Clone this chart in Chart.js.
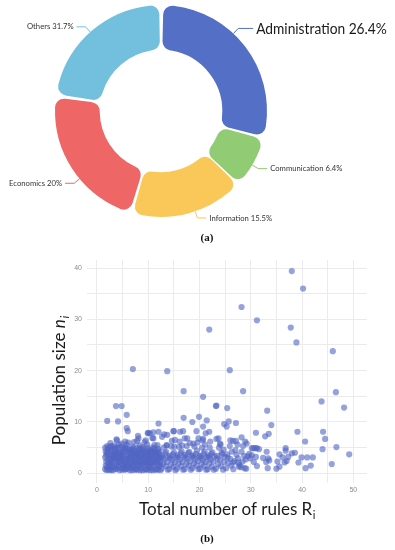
<!DOCTYPE html>
<html>
<head>
<meta charset="utf-8">
<script src="https://cdn.jsdelivr.net/npm/chart.js@4.4.1/dist/chart.umd.min.js"></script>
<style>
  html,body{margin:0;padding:0;background:#fff;}
  body{width:395px;height:550px;position:relative;overflow:hidden;}
  .box{position:absolute;left:0;}
  .cap{position:absolute;left:187px;width:40px;text-align:center;font-family:"Liberation Serif",serif;font-weight:bold;font-size:11px;line-height:12px;color:#111;}
</style>
</head>
<body>
<div class="box" style="top:0;"><canvas id="pie" width="395" height="232"></canvas></div>
<div class="cap" style="top:231px;">(a)</div>
<div class="box" style="top:245px;"><canvas id="sc" width="395" height="305"></canvas></div>
<div class="cap" style="top:532px;">(b)</div>
<script>
// ---------- Doughnut data ----------
const categories = ['Administration', 'Communication', 'Information', 'Economics', 'Others'];
const shareLabels = ['26.4%', '6.4%', '15.5%', '20%', '31.7%'];
const sliceShares = [29.2, 7.8, 17.5, 22.8, 22.7];
const sliceColors = ['#5470c6', '#91cc75', '#fac858', '#ee6666', '#73c0de'];

// ---------- Scatter data: [total rules R_i, population size n_i] ----------
const sparsePoints = [
  [38.0,39.4],[40.2,36.0],[28.2,32.4],[31.2,29.8],[21.9,28.0],[37.8,28.4],[38.9,25.5],[46.0,23.8],
  [7.0,20.3],[13.7,19.9],[25.9,20.1],[16.9,16.0],[28.5,16.0],[20.7,14.9],[46.6,15.8],[43.8,14.0],
  [48.2,12.8],[3.7,13.1],[4.8,13.1],[23.2,13.1],[23.3,13.2],[25.4,12.7],[33.2,12.2],[5.8,11.4],
  [2.0,10.2],[4.1,10.1],[16.9,10.8],[19.9,11.0],[21.4,10.3],[18.6,10.0],[25.7,10.1],[27.1,9.8],
  [24.8,9.6],[12.0,9.7],[20.7,9.1],[34.0,9.4],[5.8,8.8],[6.0,8.2],[15.0,8.2],[16.2,8.1],
  [11.0,8.0],[9.9,7.8],[21.9,8.1],[19.4,8.2],[31.0,7.9],[39.1,8.1],[44.1,8.1],[33.5,7.7],
  [32.8,7.2],[28.2,7.0],[44.5,6.7],[40.6,6.2],[23.7,6.8],[3.8,6.6],[8.0,7.3],[12.7,7.1],
  [13.1,7.6],[46.7,5.1],[44.0,4.7],[30.9,4.9],[36.8,4.9],[36.8,4.4],[33.1,4.2],[28.9,6.2],
  [29.2,5.8],[26.0,6.4],[27.1,6.3],[49.2,3.7],[38.0,3.9],[35.6,3.7],[42.1,3.1],[41.0,3.1],
  [39.9,3.1],[37.3,3.2],[36.2,3.1],[33.4,2.9],[33.6,2.5],[39.3,2.1],[35.2,2.3],[36.6,2.1],
  [45.8,1.8],[41.7,1.5],[40.7,1.0],[35.6,1.3],[35.0,0.9],[33.3,1.0],[33.0,2.2],[30.5,4.9],
  [29.7,3.8],[29.9,2.9],[29.1,0.9],[27.7,1.3],[27.6,2.1],[26.6,2.1],[38.6,4.0],[31.2,4.9],
  [30.2,4.9],[37.0,2.4],
  [14.9,8.2],[16.8,8.2],[25.3,9.1],[15.2,6.5],[17.1,6.8],[19.8,6.8],[20.7,6.7],[23.3,6.7],
  [24.0,5.8],[18.8,5.8],[13.6,5.5],[10.0,7.9],[13.7,7.5],[21.2,7.8],
  [8.1,6.8],[11.0,6.8],[10.3,7.8],[12.0,8.1],[7.2,6.1],[9.5,6.4],[2.6,5.9],[5.5,6.2]
];
const bandPoints = [
  [1.6,0.8],[1.7,1.5],[1.8,2.3],[1.6,3.1],[1.9,3.9],[2.1,4.6],[2.0,5.3],[2.3,0.7],[2.2,1.9],[2.4,2.8],[1.7,4.3],[2.4,3.5],[2.0,1.2],[2.3,5.0],
  [2.6,0.9],[2.8,1.6],[3.0,2.4],[2.7,3.2],[3.2,4.1],[2.9,4.8],[3.3,5.4],[3.1,0.6],[3.4,1.3],[2.6,2.0],[3.0,3.6],[3.3,2.9],[2.8,4.4],[3.4,5.0],
  [3.6,0.8],[3.8,1.7],[4.0,2.6],[3.7,3.4],[4.2,4.2],[3.9,5.1],[4.4,0.6],[4.1,1.4],[4.3,2.1],[3.6,2.9],[4.0,3.9],[4.4,3.1],[3.7,4.6],[4.3,5.6],[3.9,6.4],
  [4.6,1.0],[4.8,1.9],[5.0,2.7],[4.7,3.5],[5.2,4.3],[4.9,5.2],[5.4,0.7],[5.1,1.5],[5.3,2.3],[4.6,3.0],[5.0,3.8],[5.4,4.9],[4.8,5.8],[5.2,1.1],
  [5.6,0.8],[5.8,1.6],[6.0,2.5],[5.7,3.3],[6.2,4.0],[5.9,4.8],[6.4,0.6],[6.1,1.3],[6.3,2.0],[5.6,2.8],[6.0,3.7],[6.4,3.0],[5.8,5.6],[6.3,4.5],[6.1,6.0],
  [6.6,1.0],[6.8,1.9],[7.0,2.8],[6.7,3.6],[7.2,4.4],[6.9,5.2],[7.4,0.7],[7.1,1.5],[7.3,2.3],[6.6,3.1],[7.0,4.0],[7.4,3.4],[6.8,4.7],[7.2,1.2],
  [7.6,0.8],[7.8,1.7],[8.0,2.6],[7.7,3.4],[8.2,4.1],[7.9,5.0],[8.4,0.6],[8.1,1.4],[8.3,2.1],[7.6,2.9],[8.0,3.8],[8.4,3.2],[7.8,6.3],[8.2,4.7],[8.3,5.5],
  [8.6,1.0],[8.8,1.8],[9.0,2.7],[8.7,3.5],[9.2,4.3],[8.9,5.1],[9.4,0.7],[9.1,1.5],[9.3,2.2],[8.6,3.0],[9.0,3.9],[9.4,3.3],[8.8,4.6],[9.3,6.1],
  [9.6,0.8],[9.8,1.6],[10.0,2.5],[9.7,3.3],[10.2,4.0],[9.9,4.9],[10.4,0.6],[10.1,1.3],[10.3,2.0],[9.6,2.8],[10.0,3.6],[10.4,3.0],[9.8,5.6],[10.3,4.5],
  [10.6,1.0],[10.8,1.9],[11.0,2.8],[10.7,3.6],[11.2,4.4],[10.9,5.0],[11.4,0.7],[11.1,1.5],[11.3,2.3],[10.6,3.1],[11.0,4.0],[11.4,3.4],[10.8,6.9],[11.2,5.5],
  [11.6,0.8],[11.8,1.7],[12.0,2.6],[11.7,3.3],[12.2,4.1],[11.9,4.8],[12.4,0.6],[12.1,1.4],[12.3,2.1],[11.6,2.9],[12.0,3.7],[12.4,3.1],[11.8,5.5],
  [12.6,0.9],[12.9,1.8],[13.2,2.7],[12.7,3.5],[13.5,4.2],[13.0,5.0],[13.8,0.7],[13.4,1.4],[13.7,2.2],[12.8,3.0],[13.3,3.9],[13.9,3.2],[13.6,5.4],
  [14.1,0.8],[14.4,1.7],[14.7,2.6],[14.2,3.4],[15.0,4.1],[14.5,5.2],[15.3,0.6],[14.9,1.3],[15.2,2.1],[14.3,2.9],[14.8,3.7],[15.4,3.1],[14.6,6.3],[15.1,5.2],
  [15.6,0.9],[15.9,1.9],[16.2,2.7],[15.7,3.5],[16.5,4.3],[16.0,5.1],[16.8,0.7],[16.4,1.4],[16.7,2.2],[15.8,3.1],[16.3,3.9],[16.9,3.3],[16.1,6.2],[16.6,5.4],
  [17.1,0.8],[17.4,1.8],[17.7,2.8],[17.2,3.6],[18.0,4.2],[17.5,5.3],[18.3,0.7],[17.9,1.5],[18.2,2.3],[17.3,3.0],[17.8,4.0],[18.4,3.4],[17.6,6.8],[18.1,5.9],
  [18.6,1.0],[18.9,1.9],[19.2,2.7],[18.7,3.5],[19.5,4.4],[19.0,5.2],[19.8,0.8],[19.4,1.5],[19.7,2.4],[18.8,3.1],[19.3,3.8],[19.9,3.3],[19.6,6.0],
  [20.1,0.9],[20.4,1.8],[20.7,2.6],[20.2,3.4],[21.0,4.3],[20.5,5.0],[21.3,0.7],[20.9,1.4],[21.2,2.2],[20.3,3.0],[20.8,3.8],[21.4,3.2],[20.6,6.4],[21.1,5.6],
  [21.6,0.8],[21.9,1.9],[22.2,2.7],[21.7,3.5],[22.5,4.1],[22.0,5.0],[22.8,0.7],[22.4,1.3],[22.7,2.3],[21.8,3.1],[22.3,3.8],[22.9,3.3],[22.1,6.2],
  [23.2,0.9],[23.6,1.8],[24.0,2.6],[23.4,3.4],[24.3,4.0],[23.8,5.0],[24.6,0.7],[24.2,1.4],[24.8,2.2],[23.5,2.9],[24.4,3.7],[24.9,3.2],[24.1,5.6],[24.7,4.6],
  [25.2,1.0],[25.6,2.0],[26.0,2.8],[25.4,3.7],[26.3,4.2],[25.9,5.3],[26.6,0.8],[26.2,1.5],[26.8,2.4],[25.5,3.1],[27.2,3.6],[27.5,2.9],[27.0,4.5],[27.8,1.6],[27.4,5.6],[26.5,6.3],
  [28.1,1.2],[28.4,2.3],[28.7,3.4],[28.2,4.2],[29.0,2.7],[28.8,1.0],[29.4,3.3],[28.5,5.3],
  [30.2,3.5],[30.6,2.2],[31.2,1.4],[31.6,4.7],[32.4,3.0],[31.0,3.2]
];
const denseFillPoints = [
  [1.9,0.6],[2.1,2.6],[1.8,3.5],[2.2,4.1],[1.6,5.0],[2.5,1.4],
  [2.7,0.6],[3.1,1.9],[2.9,2.8],[3.4,3.8],[2.7,5.3],[3.2,3.2],
  [3.8,0.9],[4.1,2.2],[3.9,3.0],[4.3,3.6],[3.6,4.0],[4.2,4.9],
  [4.9,0.7],[4.7,2.4],[5.1,3.2],[4.8,4.1],[5.3,1.8],[5.0,4.6],
  [5.9,0.9],[5.7,2.1],[6.2,2.9],[6.0,4.3],[5.6,5.0],[6.3,1.6],
  [6.9,0.6],[7.2,2.0],[6.8,2.5],[7.3,3.8],[6.7,4.2],[7.1,4.9],
  [7.9,0.7],[7.7,2.2],[8.2,3.0],[8.0,4.4],[7.6,3.9],[8.3,1.7],
  [8.9,0.6],[9.2,2.0],[8.7,2.5],[9.3,3.7],[8.6,4.1],[9.1,4.9],
  [9.9,0.7],[9.7,2.2],[10.2,2.9],[10.0,4.4],[9.6,4.0],[10.3,1.7],
  [10.9,0.6],[11.2,2.0],[10.7,2.5],[11.3,3.8],[10.6,4.3],[11.1,4.8],
  [11.9,0.7],[11.7,2.3],[12.2,3.0],[12.0,4.4],[11.6,4.1],[12.3,1.7]
];

// ---------- Doughnut with outside labels ----------
const pieLabels = {
  id: 'pieLabels',
  afterDatasetsDraw(chart, args, opts) {
    const ctx = chart.ctx;
    const meta = chart.getDatasetMeta(0);
    const lbls = chart.data.labels;
    meta.data.forEach((arc, i) => {
      const p = arc.getProps(['x', 'y', 'startAngle', 'endAngle', 'outerRadius'], true);
      const mid = (p.startAngle + p.endAngle) / 2 + (opts.angleShift[i] || 0) * Math.PI / 180;
      const c = Math.cos(mid), s = Math.sin(mid);
      const l1 = opts.len1[i], l2 = opts.len2[i];
      const x0 = p.x + c * (p.outerRadius + 2), y0 = p.y + s * (p.outerRadius + 2);
      const x1 = p.x + c * (p.outerRadius + l1);
      const y1 = p.y + s * (p.outerRadius + l1);
      const right = c >= 0;
      const x2 = x1 + (right ? l2 : -l2);
      ctx.save();
      ctx.strokeStyle = chart.data.datasets[0].backgroundColor[i];
      ctx.lineWidth = 1;
      ctx.beginPath();
      ctx.moveTo(x0, y0); ctx.lineTo(x1, y1); ctx.lineTo(x2, y1);
      ctx.stroke();
      ctx.font = opts.fonts[i];
      ctx.fillStyle = opts.colors[i];
      ctx.textBaseline = 'middle';
      ctx.textAlign = right ? 'left' : 'right';
      const tx = x2 + (right ? 3 : -3);
      ctx.translate(tx, y1);
      ctx.scale(opts.squeeze[i], 1);
      ctx.fillText(lbls[i] + ' ' + shareLabels[i], 0, 0);
      ctx.restore();
    });
  }
};

new Chart(document.getElementById('pie'), {
  type: 'doughnut',
  data: {
    labels: categories,
    datasets: [{
      data: sliceShares,
      backgroundColor: sliceColors,
      borderWidth: 0,
      borderRadius: 9,
      spacing: 4,
      hoverOffset: 0
    }]
  },
  options: {
    responsive: false,
    animation: false,
    events: [],
    cutout: '57%',
    layout: { padding: { left: 55, right: 128, top: 5, bottom: 15 } },
    plugins: {
      legend: { display: false },
      tooltip: { enabled: false },
      pieLabels: {
        angleShift: [-9.5, 1.5, -3.5, -7, -1],
        len1: [9, 9, 9, 9, 9],
        len2: [15, 9, 9, 9, 9],
        fonts: ['16px Lato', '8px Lato', '8px Lato', '8px Lato', '8px Lato'],
        squeeze: [0.86, 0.96, 0.96, 0.96, 0.96],
        colors: ['#1a1a1a', '#333', '#333', '#333', '#333']
      }
    }
  },
  plugins: [pieLabels]
});

// ---------- Scatter ----------
const axisTitles = {
  id: 'axisTitles',
  afterDraw(chart) {
    const ctx = chart.ctx;
    const a = chart.chartArea;
    ctx.save();
    ctx.fillStyle = '#1a1a1a';
    ctx.textBaseline = 'alphabetic';
    ctx.textAlign = 'left';
    // x title
    const xMain = 'Total number of rules R', xSub = 'i';
    ctx.font = '17px Lato';
    const w1 = ctx.measureText(xMain).width;
    ctx.font = '11px Lato';
    const w2 = ctx.measureText(xSub).width;
    const cx = (a.left + a.right) / 2;
    let sx = cx - (w1 + w2) / 2;
    ctx.font = '17px Lato';
    ctx.fillText(xMain, sx, a.bottom + 32);
    ctx.font = '11px Lato';
    ctx.fillText(xSub, sx + w1 + 0.5, a.bottom + 36);
    // y title
    const yMain = 'Population size ', yVar = 'n', ySub = 'i';
    ctx.font = '17px Lato';
    const v1 = ctx.measureText(yMain).width;
    ctx.font = 'italic 17px Lato';
    const v2 = ctx.measureText(yVar).width;
    ctx.font = 'italic 11px Lato';
    const v3 = ctx.measureText(ySub).width;
    const tot = v1 + v2 + v3 + 1;
    ctx.translate(a.left - 22, (a.top + a.bottom) / 2 + 9);
    ctx.rotate(-Math.PI / 2);
    let px = -tot / 2;
    ctx.font = '17px Lato';
    ctx.fillText(yMain, px, 0);
    ctx.font = 'italic 17px Lato';
    ctx.fillText(yVar, px + v1, 0);
    ctx.font = 'italic 11px Lato';
    ctx.fillText(ySub, px + v1 + v2 + 1, 4);
    ctx.restore();
  }
};

const tickFont = { family: 'Liberation Sans', size: 7 };
const allPoints = sparsePoints.concat(bandPoints, denseFillPoints).map(([x, y]) => ({ x, y }));

new Chart(document.getElementById('sc'), {
  type: 'scatter',
  data: {
    datasets: [{
      data: allPoints,
      backgroundColor: 'rgba(80,100,195,0.6)',
      borderWidth: 0,
      pointRadius: 3.1,
      pointHoverRadius: 3.1
    }]
  },
  options: {
    responsive: false,
    animation: false,
    events: [],
    layout: { padding: { left: 0, right: 28, top: 15, bottom: 0 } },
    plugins: { legend: { display: false }, tooltip: { enabled: false } },
    scales: {
      x: {
        type: 'linear', min: -1.95, max: 52.67,
        ticks: { stepSize: 5, includeBounds: false, padding: 3, font: tickFont, color: '#8c8c8c',
          maxRotation: 0, autoSkip: false, callback: v => (v % 10 === 0 ? String(v) : '') },
        grid: { color: '#ebebeb', lineWidth: 1, drawTicks: false },
        border: { display: false },
        afterFit: s => { s.height = 67; }
      },
      y: {
        type: 'linear', min: -1.89, max: 41.56,
        ticks: { stepSize: 5, includeBounds: false, padding: 5, font: tickFont, color: '#8c8c8c',
          autoSkip: false, callback: v => (v % 10 === 0 ? String(v) : '') },
        grid: { color: '#ebebeb', lineWidth: 1, drawTicks: false },
        border: { display: false },
        afterFit: s => { s.width = 87; }
      }
    }
  },
  plugins: [axisTitles]
});
</script>
</body>
</html>
